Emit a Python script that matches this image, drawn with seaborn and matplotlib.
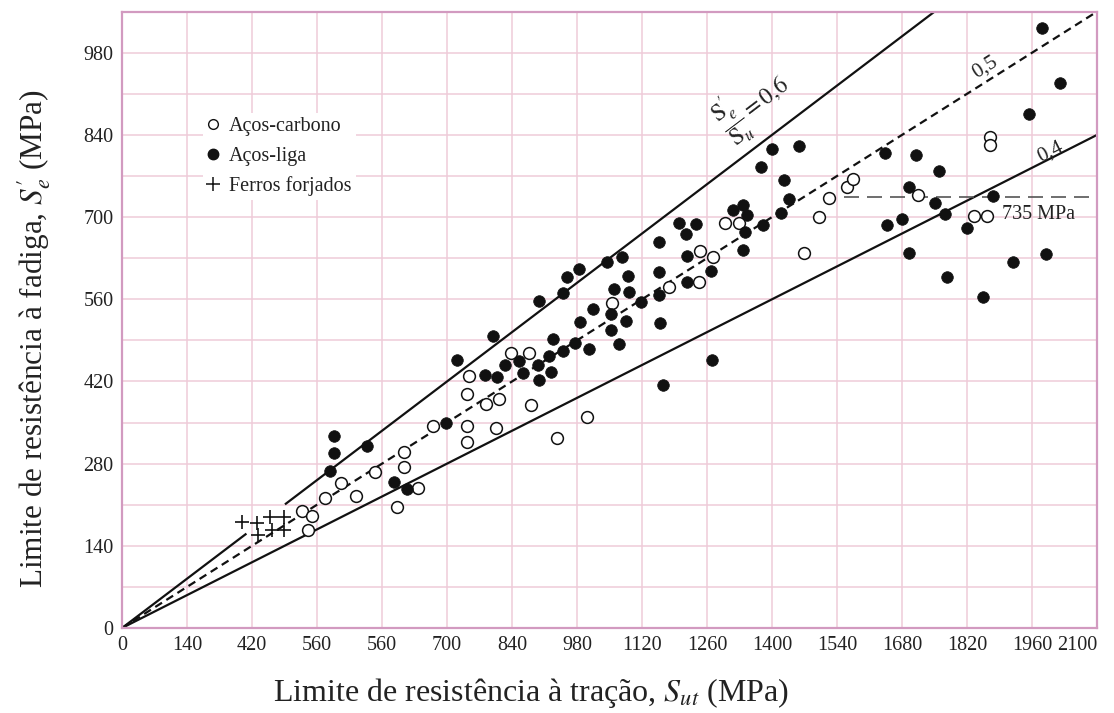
import numpy as np
import pandas as pd
import matplotlib
matplotlib.use("Agg")
import matplotlib.pyplot as plt
import seaborn as sns
from matplotlib.lines import Line2D

# ---------------- data (MPa) ----------------
carbon_x = [387.0, 408.6, 401.3, 437.2, 471.0, 504.0, 544.9, 607.4, 607.4, 592.9,
            638.2, 670.5, 742.4, 742.4, 743.7, 746.7, 784.0, 812.6, 805.5, 880.3,
            837.2, 876.0, 936.3, 1000.9, 1055.4, 1178.8, 1243.4, 1244.9, 1273.5, 1298.7,
            1329.5, 1468.9, 1500.5, 1522.1, 1562.1, 1573.8, 1715.1, 1835.0, 1862.4, 1869.5,
            1869.5]
carbon_y = [199.8, 190.8, 167.0, 221.0, 247.5, 224.9, 266.3, 299.8, 274.8, 206.6,
            238.0, 344.1, 344.1, 317.4, 398.6, 429.3, 381.6, 390.6, 340.7, 379.4,
            468.0, 468.0, 323.2, 360.0, 554.2, 580.4, 589.4, 642.8, 632.5, 690.5,
            689.4, 638.3, 699.7, 732.5, 750.8, 765.4, 737.6, 701.9, 701.9, 837.0,
            822.8]

alloy_x = [457.3, 457.3, 448.0, 528.3, 586.5, 614.5, 697.8, 722.2, 781.2, 808.3,
           799.7, 825.5, 855.7, 863.0, 897.5, 896.6, 920.3, 923.3, 928.9, 898.8,
           949.2, 959.1, 984.9, 949.2, 975.0, 1005.2, 986.4, 1013.8, 1045.2, 1059.7,
           1052.6, 1053.8, 1070.4, 1076.9, 1089.8, 1092.6, 1118.5, 1155.9, 1085.5, 1158.7,
           1157.2, 1157.2, 1200.3, 1236.3, 1214.7, 1216.2, 1217.5, 1267.9, 1315.3, 1336.9,
           1346.8, 1342.5, 1338.1, 1379.9, 1418.7, 1437.2, 1426.5, 1375.6, 1400.0, 1457.5,
           1270.1, 1165.8, 1643.3, 1710.1, 1759.0, 1694.4, 1751.7, 1875.3, 1773.2, 1648.3,
           1679.3, 1820.6, 1695.7, 1919.7, 1990.1, 1777.5, 1855.1, 1981.5, 2020.3, 1954.1]
alloy_y = [327.1, 297.6, 268.0, 310.1, 249.2, 236.3, 349.7, 456.6, 431.0, 427.1,
           497.4, 448.0, 455.4, 433.9, 422.5, 448.0, 463.4, 436.6, 492.8, 557.6,
           571.2, 597.4, 611.1, 472.4, 485.0, 474.8, 521.8, 542.9, 624.0, 577.0,
           534.9, 507.7, 483.8, 631.5, 599.7, 572.4, 555.4, 567.8, 523.5, 519.1,
           606.5, 657.6, 689.4, 688.2, 671.2, 633.7, 590.0, 607.7, 712.1, 721.1,
           703.1, 674.6, 644.0, 686.5, 707.5, 730.3, 763.2, 784.8, 815.5, 821.1,
           456.6, 413.5, 808.7, 805.8, 779.0, 751.8, 723.5, 735.9, 705.3, 686.5,
           696.3, 680.9, 638.3, 623.0, 637.1, 598.5, 563.4, 1021.6, 929.0, 875.1]

iron_x = [257.8, 290.1, 293.6, 318.8, 322.4, 348.9, 348.9]
iron_y = [180.1, 178.4, 158.4, 189.6, 167.0, 189.6, 167.0]

x_ticks = list(range(0, 2101, 140))
x_tick_labels = ['0', '140', '420', '560', '560', '700', '840', '980', '1120',
                 '1260', '1400', '1540', '1680', '1820', '1960', '2100']
y_ticks = list(range(0, 981, 140))
y_tick_labels = [str(v) for v in y_ticks]

# ratio lines Se'/Su and the x-ranges over which they are drawn
ratio_06 = 0.6
ratio_06_segments = [(0, 268), (351, 1750)]
ratio_05 = 0.5
ratio_04 = 0.4
limit_value = 735
limit_start = 1555

legend_labels = ['Aços-carbono', 'Aços-liga', 'Ferros forjados']

# ---------------- style ----------------
sns.set_theme(style='white')
plt.rcParams['font.family'] = ['Liberation Serif', 'DejaVu Serif']
plt.rcParams['mathtext.fontset'] = 'stix'

TXT = '#222222'
GRID = '#efcbd9'
SPINE = '#d29ac0'

fig = plt.figure(figsize=(11.14, 7.13), dpi=100)
ax = fig.add_axes([0.10952, 0.11921, 0.87522, 0.86445])
ax.set_xlim(0, 2100)
ax.set_ylim(0, 1050)

# grid
ax.set_xticks(x_ticks)
ax.set_xticklabels(x_tick_labels)
ax.set_yticks(y_ticks)
ax.set_yticklabels(y_tick_labels)
ax.set_yticks(list(range(70, 1051, 140)), minor=True)
ax.grid(True, which='major', color=GRID, lw=1.1, zorder=0)
ax.grid(True, which='minor', axis='y', color=GRID, lw=1.1, zorder=0)
ax.set_axisbelow(True)
ax.tick_params(axis='both', which='both', length=0, pad=6, labelsize=14.5, labelcolor=TXT)
ax.get_xticklabels()[-1].set_horizontalalignment('right')
for sp in ax.spines.values():
    sp.set_color(SPINE)
    sp.set_linewidth(1.6)

# reference lines
for x0, x1 in ratio_06_segments:
    xs = np.array([x0, x1], dtype=float)
    ax.plot(xs, ratio_06 * xs, color='#111111', lw=1.6, zorder=2, solid_capstyle='butt')
xs = np.array([0, 2100], dtype=float)
ax.plot(xs, ratio_05 * xs, color='#111111', lw=1.6, ls=(0, (3.6, 2.3)), zorder=2)
ax.plot(xs, ratio_04 * xs, color='#111111', lw=1.6, zorder=2)
ax.plot([limit_start, 2100], [limit_value, limit_value], color='#555555', lw=1.2,
        ls=(0, (9, 4.8)), zorder=2)

# scatter
sns.scatterplot(x=carbon_x, y=carbon_y, ax=ax, marker='o', s=72, color='white',
                edgecolor='#111111', linewidth=1.1, zorder=4, legend=False)
sns.scatterplot(x=alloy_x, y=alloy_y, ax=ax, marker='o', s=70, color='#111111',
                edgecolor='#111111', linewidth=0.5, zorder=4, legend=False)
sns.scatterplot(x=iron_x, y=iron_y, ax=ax, marker='+', s=110, color='#111111',
                linewidth=1.2, zorder=4, legend=False)

# labels
ax.set_xlabel("Limite de resistência à tração, $S_{ut}$ (MPa)", fontsize=23, color=TXT)
ax.xaxis.set_label_coords(0.42, -0.078)
ax.set_ylabel(r"Limite de resistência à fadiga, $S_e^{\prime}$ (MPa)", fontsize=22.5,
              color=TXT)
ax.yaxis.set_label_coords(-0.071, 0.47)


def line_angle(m):
    p0 = ax.transData.transform((0, 0))
    p1 = ax.transData.transform((1000, 1000 * m))
    return np.degrees(np.arctan2(p1[1] - p0[1], p1[0] - p0[0]))


ax.text(1362, 892, r"$\dfrac{\mathrm{S}_{e}^{\prime}}{\mathrm{S}_{u}} = 0{,}6$",
        fontsize=17, color=TXT, rotation=line_angle(ratio_06), rotation_mode='anchor',
        ha='center', va='center', zorder=5)
ax.text(1859, 956, "0,5", fontsize=15, color=TXT, rotation=line_angle(ratio_05),
        rotation_mode='anchor', ha='center', va='center', zorder=5)
ax.text(1999, 811, "0,4", fontsize=15, color=TXT, rotation=line_angle(ratio_04),
        rotation_mode='anchor', ha='center', va='center', zorder=5)
ax.text(1895, 704, f"{limit_value} MPa", fontsize=14.5, color=TXT,
        ha='left', va='center', zorder=5)

# legend
handles = [
    Line2D([], [], marker='o', ls='', mfc='white', mec='#111111', ms=7, mew=1.0),
    Line2D([], [], marker='o', ls='', mfc='#111111', mec='#111111', ms=7.5),
    Line2D([], [], marker='+', ls='', color='#111111', ms=10, mew=1.1),
]
leg = ax.legend(handles, legend_labels, loc='upper left', bbox_to_anchor=(0.083, 0.835),
                borderaxespad=0, borderpad=0.2, handlelength=0.6, handletextpad=0.5,
                labelspacing=0.52, fontsize=14.5, frameon=True, framealpha=1,
                facecolor='white', edgecolor='none', fancybox=False)
for t in leg.get_texts():
    t.set_color(TXT)

fig.savefig('out.png', dpi=100, facecolor='white')
